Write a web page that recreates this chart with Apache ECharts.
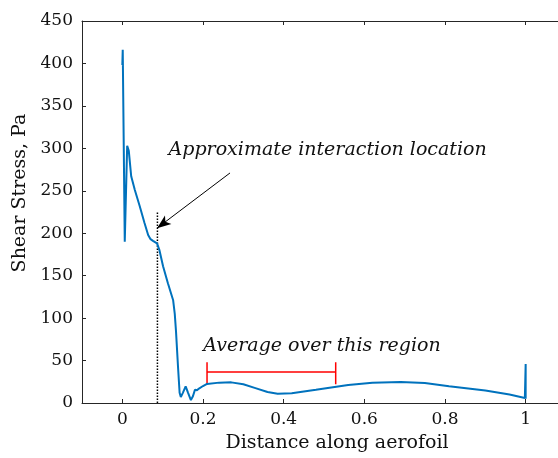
<!DOCTYPE html>
<html>
<head>
<meta charset="utf-8">
<script src="https://cdn.jsdelivr.net/npm/echarts@6/dist/echarts.min.js"></script>
<style>
html,body{margin:0;padding:0;background:#fff;}
#chart{width:558px;height:458px;}
</style>
</head>
<body>
<div id="chart"></div>
<script>
// ---- data ----
const xDistance = [0, 0.001, 0.006, 0.012, 0.016, 0.022, 0.031, 0.043, 0.055, 0.064, 0.070, 0.076, 0.086, 0.092, 0.101, 0.113, 0.126, 0.130, 0.133, 0.138, 0.142, 0.145, 0.150, 0.157, 0.163, 0.170, 0.175, 0.180, 0.185, 0.190, 0.200, 0.210, 0.240, 0.270, 0.300, 0.330, 0.360, 0.385, 0.420, 0.480, 0.560, 0.620, 0.690, 0.750, 0.810, 0.900, 0.960, 0.998, 1.0, 1.0];
const shearStress = [398, 416, 190, 303, 297, 267, 251, 232, 212, 198, 193, 191, 188, 180, 161, 141, 121, 105, 85, 43, 12, 7, 12, 19.6, 12, 3.5, 8, 15.5, 15, 17, 20, 22.5, 24, 24.3, 22, 17.5, 13, 11, 11.5, 15.5, 21.3, 23.8, 24.7, 23.5, 19.8, 14.7, 10, 6, 46, 5];
const xTicks = [0, 0.2, 0.4, 0.6, 0.8, 1];
const yTicks = [0, 50, 100, 150, 200, 250, 300, 350, 400, 450];
const interactionX = [0.087, 0.087];
const interactionY = [0, 226];
const arrowFrom = [0.267, 271];
const arrowTo = [0.086, 206];
const bracketX = [0.21, 0.21, 0.21, 0.529, 0.529, 0.529];
const bracketY = [22, 48, 36.5, 36.5, 48, 22];
const labelInteraction = ['Approximate interaction location', 0.509, 298];
const labelAverage = ['Average over this region', 0.495, 67.5];
const xName = 'Distance along aerofoil';
const yName = 'Shear Stress, Pa';

const zip = (a, b) => a.map((v, i) => [v, b[i]]);
const FONT = 'DejaVu Serif';
const TXT = '#111';
const AX = '#262626';

const chart = echarts.init(document.getElementById('chart'), null, {renderer: 'canvas'});
const axisCommon = {
  type: 'value', min: -0.1, max: 1.1,
  splitLine: {show: false},
  axisLine: {show: true, onZero: false, lineStyle: {color: AX, width: 1}},
  axisTick: {show: true, inside: true, length: 4, customValues: xTicks, lineStyle: {color: AX}},
};
chart.setOption({
  animation: false,
  grid: {left: 82, top: 21, width: 484, bottom: 55, containLabel: false, outerBoundsMode: 'none'},
  xAxis: [
    Object.assign({}, axisCommon, {
      position: 'bottom',
      axisLabel: {show: true, customValues: xTicks, margin: 8, fontFamily: FONT, fontSize: 17, color: TXT,
        formatter: v => String(+v.toFixed(2))}
    }),
    Object.assign({}, axisCommon, {
      position: 'top',
      axisLabel: {show: false}
    })
  ],
  yAxis: {
    type: 'value', min: 0, max: 450, interval: 50,
    splitLine: {show: false},
    axisLine: {show: true, onZero: false, lineStyle: {color: AX, width: 1}},
    axisTick: {show: true, inside: true, length: 4, lineStyle: {color: AX}},
    axisLabel: {margin: 9, fontFamily: FONT, fontSize: 17, color: TXT,
      customValues: yTicks}
  },
  graphic: [
    {type: 'text', x: 337, y: 443, style: {text: xName, font: '19px "' + FONT + '"', fill: TXT, align: 'center', verticalAlign: 'middle'}},
    {type: 'text', rotation: Math.PI / 2, x: 20, y: 193, style: {text: yName, font: '19px "' + FONT + '"', fill: TXT, align: 'center', verticalAlign: 'middle'}}
  ],
  series: [
    {
      type: 'line', data: zip(xDistance, shearStress), showSymbol: false, symbol: 'none',
      lineStyle: {color: '#0072BD', width: 2}, z: 5
    },
    {
      type: 'line', data: zip(interactionX, interactionY), symbol: 'none',
      lineStyle: {color: '#000', width: 1.5, type: [1.5, 1.5]}, z: 4
    },
    {
      type: 'line', data: zip(bracketX, bracketY), symbol: 'none',
      lineStyle: {color: '#FF0000', width: 1.5}, z: 4
    },
    {
      type: 'scatter', symbolSize: 0, data: [],
      markLine: {
        silent: true, symbol: ['none', 'arrow'], symbolSize: [8, 14],
        lineStyle: {color: '#000', width: 1, type: 'solid'}, label: {show: false},
        data: [[{coord: arrowFrom}, {coord: arrowTo}]]
      }
    },
    {
      type: 'scatter', symbolSize: 0, z: 6,
      itemStyle: {opacity: 1},
      data: [labelInteraction.slice(1), labelAverage.slice(1)],
      label: {
        show: true, position: 'inside', opacity: 1,
        formatter: p => p.dataIndex === 0 ? labelInteraction[0] : labelAverage[0],
        fontFamily: FONT, fontStyle: 'italic', fontSize: 19, color: TXT
      }
    }
  ]
});
</script>
</body>
</html>
